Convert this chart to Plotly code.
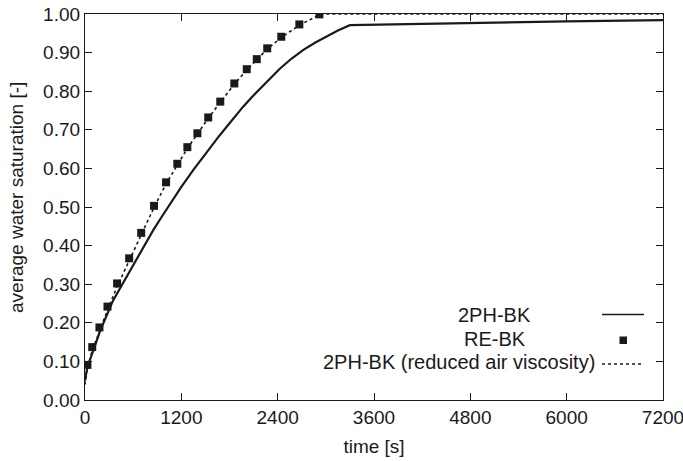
import plotly.graph_objects as go

# ---- data ----
t_2ph = [0, 20, 60, 190, 350, 560, 706, 850, 960, 1080, 1200, 1350, 1460, 1560, 1660,
         1765, 1870, 1970, 2080, 2180, 2300, 2420, 2570, 2720, 2870, 3010, 3150, 3300,
         4000, 4800, 6000, 7200]
s_2ph = [0.050, 0.075, 0.103, 0.180, 0.258, 0.336, 0.389, 0.440, 0.476, 0.515, 0.552,
         0.596, 0.627, 0.654, 0.681, 0.708, 0.735, 0.760, 0.785, 0.807, 0.833, 0.857,
         0.884, 0.907, 0.926, 0.942, 0.957, 0.971, 0.974, 0.977, 0.981, 0.984]

t_re = [30, 90, 180, 280, 400, 550, 700, 860, 1010, 1150, 1275, 1400, 1535, 1685,
        1860, 2015, 2140, 2270, 2445, 2670, 2920]
s_re = [0.091, 0.137, 0.188, 0.242, 0.302, 0.367, 0.433, 0.503, 0.564, 0.612, 0.655,
        0.691, 0.732, 0.773, 0.820, 0.857, 0.883, 0.911, 0.941, 0.973, 0.999]

t_red = [0, 30, 90, 180, 280, 400, 550, 700, 860, 1010, 1150, 1275, 1400, 1535, 1685,
         1860, 2015, 2140, 2270, 2445, 2670, 2920, 3000, 7200]
s_red = [0.040, 0.083, 0.128, 0.178, 0.233, 0.294, 0.360, 0.428, 0.499, 0.560, 0.610,
         0.652, 0.689, 0.730, 0.771, 0.818, 0.855, 0.881, 0.909, 0.939, 0.971, 0.998,
         1.0, 1.0]

x_ticks = [0, 1200, 2400, 3600, 4800, 6000, 7200]
y_ticks = [0.0, 0.1, 0.2, 0.3, 0.4, 0.5, 0.6, 0.7, 0.8, 0.9, 1.0]

legend_labels = ["2PH-BK", "RE-BK", "2PH-BK (reduced air viscosity)"]
x_title = "time [s]"
y_title = "average water saturation [-]"

W, H = 683, 461
ML, MR, MT, MB = 85, 20, 14, 61
PW, PH = W - ML - MR, H - MT - MB
INK = "#1a1a1a"
FONT = "Liberation Sans, Arial, Helvetica, sans-serif"


def px(xp):
    return (xp - ML) / PW


def py(yp):
    return (H - MB - yp) / PH


fig = go.Figure()
fig.add_trace(go.Scatter(x=t_2ph, y=s_2ph, mode="lines", name=legend_labels[0],
                         line=dict(color=INK, width=2.2), showlegend=False))
fig.add_trace(go.Scatter(x=t_red, y=s_red, mode="lines", name=legend_labels[2],
                         line=dict(color=INK, width=1.6, dash="dot"), showlegend=False))
fig.add_trace(go.Scatter(x=t_re, y=s_re, mode="markers", name=legend_labels[1],
                         marker=dict(symbol="square", size=8, color=INK), showlegend=False))

# legend drawn gnuplot-style: right-aligned text, sample on the right
rows_y = [315, 338.5, 362]
text_right = [533, 528, 597]
for lab, yy, xr in zip(legend_labels, rows_y, text_right):
    fig.add_annotation(x=px(xr), y=py(yy), xref="paper", yref="paper", text=lab,
                       showarrow=False, xanchor="right", yanchor="middle",
                       font=dict(family=FONT, size=20, color=INK))
fig.add_shape(type="line", xref="paper", yref="paper", x0=px(602), x1=px(644),
              y0=py(314.5), y1=py(314.5), line=dict(color=INK, width=1.5))
fig.add_shape(type="rect", xref="paper", yref="paper", x0=px(619.5), x1=px(627),
              y0=py(344), y1=py(336.5), line=dict(width=0), fillcolor=INK)
fig.add_shape(type="line", xref="paper", yref="paper", x0=px(602), x1=px(642),
              y0=py(364), y1=py(364), line=dict(color=INK, width=1.3, dash="dot"))

# y-axis title (placed like the reference, slightly above the axis centre)
fig.add_annotation(x=px(16), y=py(198), xref="paper", yref="paper", text=y_title,
                   textangle=-90, showarrow=False, xanchor="center", yanchor="middle",
                   font=dict(family=FONT, size=19, color=INK))

axis_common = dict(showgrid=False, zeroline=False, showline=True, linecolor=INK,
                   linewidth=1.3, mirror="allticks", ticks="inside", ticklen=7,
                   tickwidth=1, tickcolor=INK, ticklabeloverflow="allow",
                   tickfont=dict(family=FONT, size=19, color=INK))

fig.update_xaxes(range=[0, 7200], tickvals=x_ticks, ticktext=[str(v) for v in x_ticks],
                 title=dict(text=x_title, font=dict(family=FONT, size=19, color=INK),
                            standoff=12),
                 automargin=False, **axis_common)
fig.update_yaxes(range=[0, 1.0], tickvals=y_ticks, ticktext=[f"{v:.2f}" for v in y_ticks],
                 automargin=False, **axis_common)

fig.update_layout(width=W, height=H, margin=dict(l=ML, r=MR, t=MT, b=MB),
                  paper_bgcolor="white", plot_bgcolor="white",
                  font=dict(family=FONT, color=INK))

fig.write_html("out.html")
